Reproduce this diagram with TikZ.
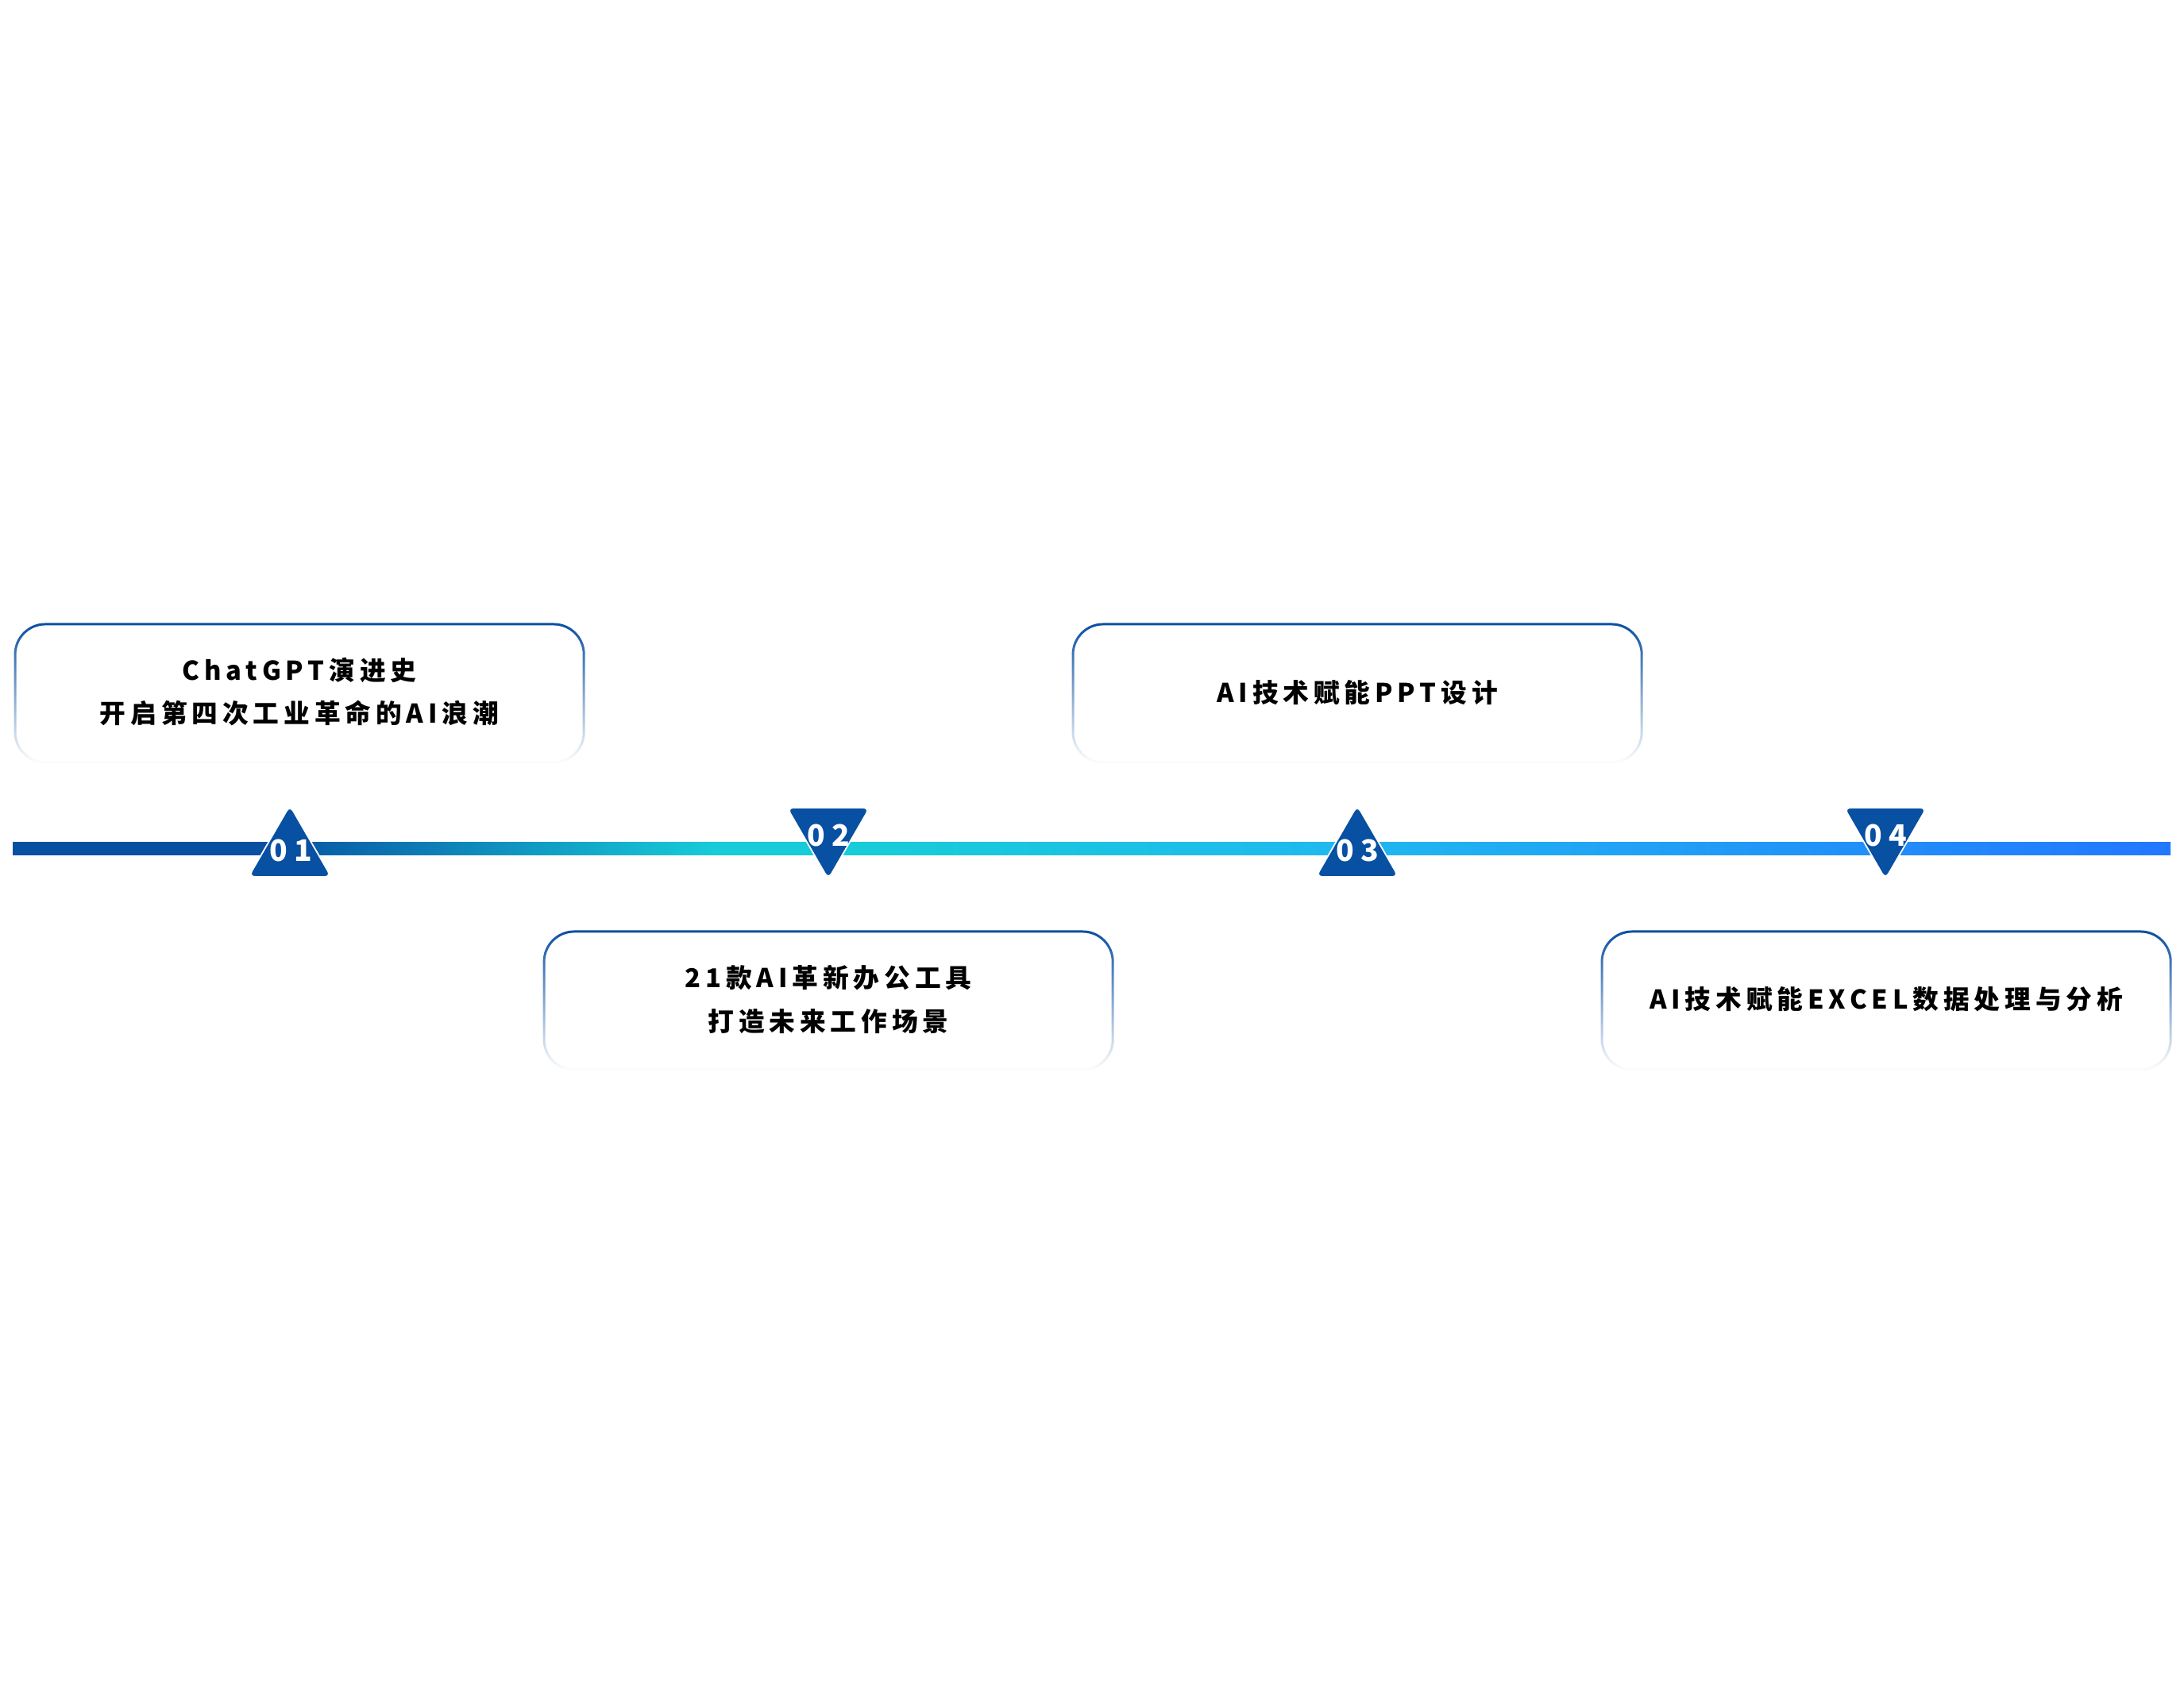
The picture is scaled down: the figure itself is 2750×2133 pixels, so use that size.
\documentclass[tikz,border=0pt]{standalone}
\usepackage{fontspec}
\usetikzlibrary{fadings}
\newfontfamily\cjk[LetterSpace=18]{Noto Sans CJK SC}
\newfontfamily\numfont{Noto Sans CJK SC}
\definecolor{deepblue}{HTML}{0A4FA2}
\definecolor{tri}{HTML}{0750A2}
\definecolor{lineA}{HTML}{0750A2}
\definecolor{lineB}{HTML}{17CCD8}
\definecolor{lineC}{HTML}{20B8F0}
\definecolor{lineD}{HTML}{2277FF}
\pgfdeclarehorizontalshading{timeline}{100bp}{color(0bp)=(lineA); color(25bp)=(lineA); color(30.78bp)=(lineA); color(41.27bp)=(lineB); color(44.95bp)=(lineB); color(55.99bp)=(lineC); color(75bp)=(lineD); color(100bp)=(lineD)}
\tikzfading[name=boxfade, top color=transparent!0, middle color=transparent!60, bottom color=transparent!100]
\begin{document}
\begin{tikzpicture}[x=0.01cm,y=-0.01cm,
  boxline/.style={draw=deepblue, line width=0.85pt, path fading=boxfade, rounded corners=10.8pt},
  tripath/.style={fill=tri, draw=white, line width=0.5pt, rounded corners=2.3pt},
  lbl/.style={inner sep=0pt, font=\cjk\bfseries\fontsize{9.3pt}{11pt}\selectfont, text=black},
  num/.style={inner sep=0pt, font=\numfont\bfseries\fontsize{10.6pt}{12pt}\selectfont, text=white}]
\fill[white] (0,0) rectangle (2750,2133);
\useasboundingbox (0,0) rectangle (2750,2133);

% timeline bar
\shade[shading=timeline] (16,1060) rectangle (2733,1076);

% boxes
\draw[boxline] (19,786) rectangle (735,960);
\draw[boxline] (685,1173) rectangle (1401,1347);
\draw[boxline] (1351,786) rectangle (2067,960);
\draw[boxline] (2017,1173) rectangle (2733,1347);

\node[lbl] (t1a) at (377,844) {ChatGPT演进史};
\node[lbl] (t1b) at (377,898) {开启第四次工业革命的AI浪潮};
\node[lbl] (t2a) at (1043,1231) {21款AI革新办公工具};
\node[lbl] (t2b) at (1043,1286) {打造未来工作场景};
\node[lbl] (t3) at (1709,872) {AI技术赋能PPT设计};
\node[lbl] (t4) at (2375,1258) {AI技术赋能EXCEL数据处理与分析};

% triangles
\draw[tripath] (313,1104) -- (365,1014) -- (417,1104) -- cycle;
\draw[tripath] (991,1017) -- (1095,1017) -- (1043,1107) -- cycle;
\draw[tripath] (1657,1104) -- (1709,1014) -- (1761,1104) -- cycle;
\draw[tripath] (2322,1017) -- (2426,1017) -- (2374,1107) -- cycle;

\node[num] (n1) at (366,1071) {0\kern2.4pt 1};
\node[num] (n2) at (1043,1052) {0\kern2.4pt 2};
\node[num] (n3) at (1709,1071) {0\kern2.4pt 3};
\node[num] (n4) at (2374,1052) {0\kern2.4pt 4};
\end{tikzpicture}
\end{document}
